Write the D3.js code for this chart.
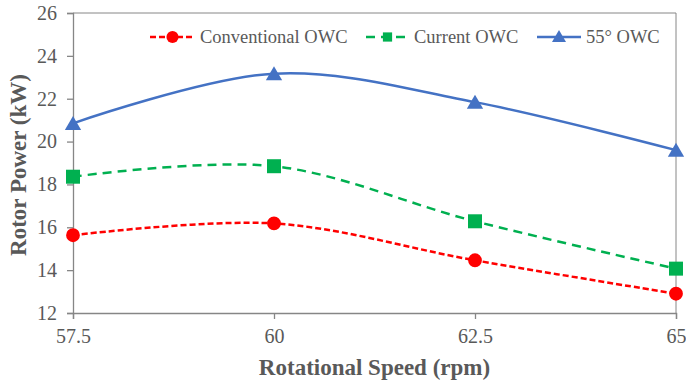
<!DOCTYPE html>
<html>
<head>
<meta charset="utf-8">
<script src="https://cdn.jsdelivr.net/npm/d3@7"></script>
<style>
  body { margin: 0; background: #fff; }
  text { font-family: "Liberation Serif", "Times New Roman", serif; }
</style>
</head>
<body>
<svg id="chart" width="686" height="381"></svg>
<script>
let speeds = [57.5, 60, 62.5, 65]
let conventional = [15.63, 16.18, 14.46, 12.9]
let current = [18.36, 18.85, 16.28, 14.07]
let owc55 = [20.85, 23.17, 21.84, 19.6]
let yTicks = [12, 14, 16, 18, 20, 22, 24, 26]
let seriesNames = ['Conventional OWC', 'Current OWC', '55\u00b0 OWC']

function main() {
    let svg = d3.select('#chart'),
        margin = {top: 13, bottom: 68, left: 73, right: 10},
        w = +svg.attr('width'),
        h = +svg.attr('height'),
        width = w - margin.left - margin.right,
        height = h - margin.top - margin.bottom

    let x = d3.scaleLinear().domain([57.5, 65]).range([margin.left, margin.left + width])
    let y = d3.scaleLinear().domain([12, 26]).range([margin.top + height, margin.top])

    let axisColor = '#868686', textColor = '#595959'

    // frame (top and right)
    svg.append('path')
        .attr('d', d3.line()([[x(57.5), y(26)], [x(65), y(26)], [x(65), y(12)]]))
        .attr('fill', 'none')
        .attr('stroke', axisColor)
        .attr('stroke-width', 1)

    let yAxis = svg.append('g')
        .attr('transform', 'translate(' + margin.left + ',0)')
        .call(d3.axisLeft(y).tickValues(yTicks).tickSize(6).tickPadding(10))
    let xAxis = svg.append('g')
        .attr('transform', 'translate(0,' + (margin.top + height) + ')')
        .call(d3.axisBottom(x).tickValues(speeds).tickFormat(d => d).tickSize(6).tickPadding(10))

    ;[xAxis, yAxis].forEach(g => {
        g.select('.domain').attr('stroke', axisColor).attr('stroke-width', 1.3)
        g.selectAll('.tick line').attr('stroke', axisColor).attr('stroke-width', 1.3)
        g.selectAll('.tick text')
            .attr('fill', textColor)
            .attr('font-size', 20)
            .style('font-family', '"Liberation Serif", serif')
    })

    svg.append('text')
        .attr('x', margin.left + width / 2)
        .attr('y', 375)
        .attr('text-anchor', 'middle')
        .attr('fill', textColor)
        .attr('font-size', 23)
        .attr('font-weight', 'bold')
        .text('Rotational Speed (rpm)')

    svg.append('text')
        .attr('transform', 'rotate(-90)')
        .attr('x', -(margin.top + height / 2) - 2)
        .attr('y', 26)
        .attr('text-anchor', 'middle')
        .attr('fill', textColor)
        .attr('font-size', 23)
        .attr('font-weight', 'bold')
        .text('Rotor Power (kW)')

    let series = [
        {name: seriesNames[0], values: conventional, color: '#FF0000', dash: '6,3', marker: d3.symbolCircle, size: 150},
        {name: seriesNames[1], values: current, color: '#00B050', dash: '9,6', marker: d3.symbolSquare, size: 196},
        {name: seriesNames[2], values: owc55, color: '#4472C4', dash: null, marker: d3.symbolTriangle, size: 115}
    ]

    let line = d3.line()
        .x((d, i) => x(speeds[i]))
        .y(d => y(d))
        .curve(d3.curveCatmullRom.alpha(0))

    series.forEach(s => {
        svg.append('path')
            .attr('d', line(s.values))
            .attr('fill', 'none')
            .attr('stroke', s.color)
            .attr('stroke-width', 2.5)
            .attr('stroke-dasharray', s.dash)

        svg.selectAll(null)
            .data(s.values)
            .enter()
            .append('path')
            .attr('transform', (d, i) => 'translate(' + x(speeds[i]) + ',' + (y(d) + (s.marker === d3.symbolTriangle ? 2 : 0)) + ')')
            .attr('d', d3.symbol().type(s.marker).size(s.size))
            .attr('fill', s.color)
    })

    // legend
    let legendX = [150, 366, 537], legendY = 37
    let lineLen = [45, 43, 44]
    series.forEach((s, i) => {
        let g = svg.append('g').attr('transform', 'translate(' + legendX[i] + ',' + legendY + ')')
        g.append('path')
            .attr('d', d3.line()([[0, 0], [lineLen[i], 0]]))
            .attr('stroke', s.color)
            .attr('stroke-width', 2.5)
            .attr('stroke-dasharray', s.dash)
        g.append('path')
            .attr('transform', 'translate(' + lineLen[i] / 2 + ',' + (s.marker === d3.symbolTriangle ? 1 : 0) + ')')
            .attr('d', d3.symbol().type(s.marker).size(s.marker === d3.symbolCircle ? 115 : 85))
            .attr('fill', s.color)
        g.append('text')
            .attr('x', lineLen[i] + 5)
            .attr('y', 6)
            .attr('fill', textColor)
            .attr('font-size', 18.5)
            .text(s.name)
    })
}

main()
</script>
</body>
</html>
